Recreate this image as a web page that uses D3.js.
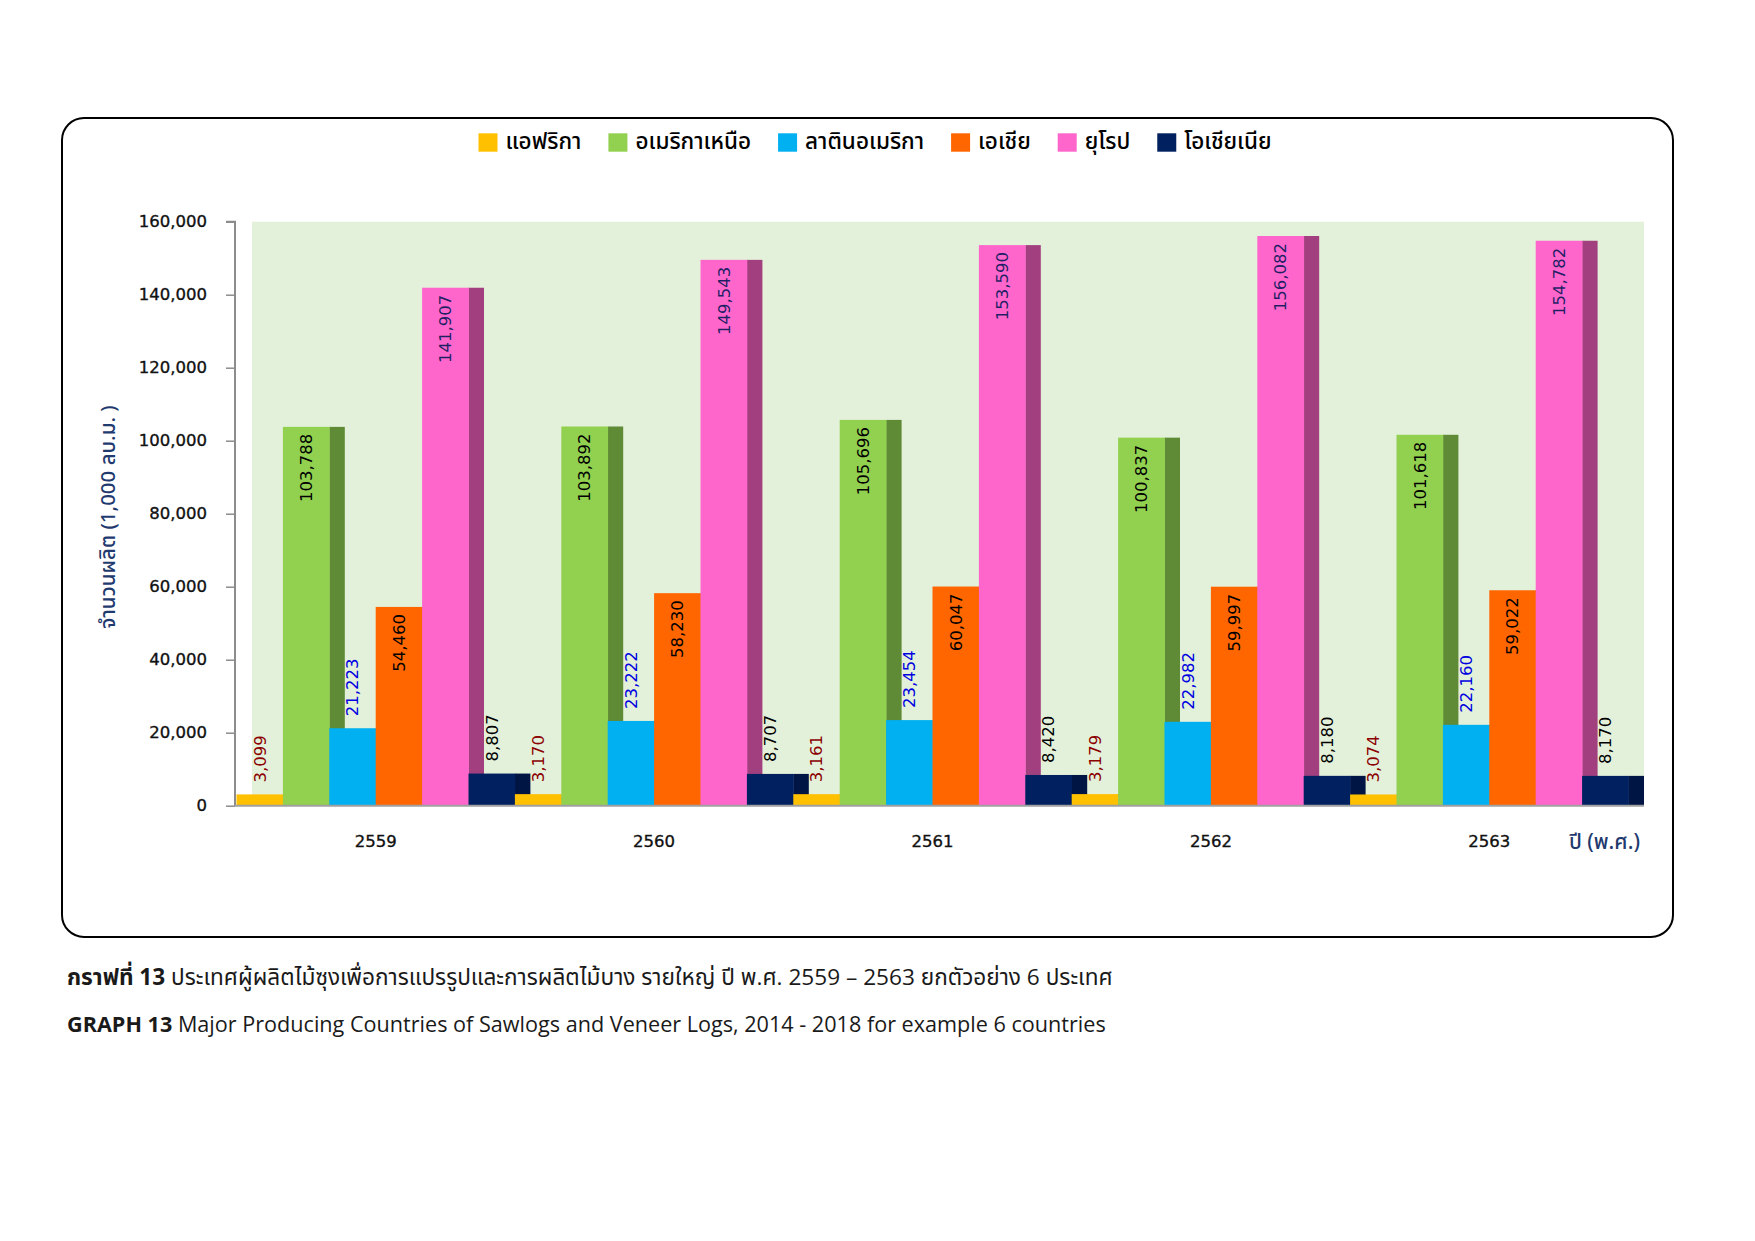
<!DOCTYPE html>
<html>
<head>
<meta charset="utf-8">
<script src="https://cdn.jsdelivr.net/npm/d3@7"></script>
<style>
  html, body { margin: 0; padding: 0; background: #fff; }
  svg { display: block; }
</style>
</head>
<body>
<svg id="chart" width="1755" height="1241"></svg>
<script>
// ---------------- DATA ----------------
const years = ['2559', '2560', '2561', '2562', '2563'];
const regions = ['แอฟริกา', 'อเมริกาเหนือ', 'ลาตินอเมริกา', 'เอเชีย', 'ยุโรป', 'โอเชียเนีย'];
const africa       = [3099, 3170, 3161, 3179, 3074];
const northAmerica = [103788, 103892, 105696, 100837, 101618];
const latinAmerica = [21223, 23222, 23454, 22982, 22160];
const asia         = [54460, 58230, 60047, 59997, 59022];
const europe       = [141907, 149543, 153590, 156082, 154782];
const oceania      = [8807, 8707, 8420, 8180, 8170];
const yTicks = [0, 20000, 40000, 60000, 80000, 100000, 120000, 140000, 160000];
const yTitle = 'จำนวนผลิต (1,000  ลบ.ม. )';
const xTitle = 'ปี (พ.ศ.)';
const caption1Bold = 'กราฟที่ 13';
const caption1Rest = ' ประเทศผู้ผลิตไม้ซุงเพื่อการแปรรูปและการผลิตไม้บาง รายใหญ่ ปี พ.ศ. 2559 – 2563 ยกตัวอย่าง 6 ประเทศ';
const caption2Bold = 'GRAPH 13';
const caption2Rest = ' Major Producing Countries of Sawlogs and Veneer Logs, 2014 - 2018 for example 6 countries';

const seriesValues = [africa, northAmerica, latinAmerica, asia, europe, oceania];

// ---------------- STYLE ----------------
const frontColors = ['#FFC000', '#92D050', '#00B0F0', '#FF6600', '#FF66CC', '#002060'];
const sideColors  = ['#BF9000', '#5F8A36', '#0083B4', '#BF4C00', '#A2407F', '#001543'];
const labelColors = ['#8B0000', '#000000', '#0000E0', '#000000', '#1F1F66', '#000000'];
const labelInside = [false, true, false, true, true, false];
const navy = '#1F3A6E';
const thaiFont = '"Noto Sans Thai", "Noto Sans Thai UI", "Leelawadee UI", Tahoma, "Noto Sans", sans-serif';
const numFont = '"DejaVu Sans", Verdana, sans-serif';

const svg = d3.select('#chart');

// frame
svg.append('rect')
  .attr('x', 62).attr('y', 118).attr('width', 1611).attr('height', 819)
  .attr('rx', 22).attr('ry', 22)
  .attr('fill', '#fff').attr('stroke', '#000').attr('stroke-width', 2);

const plot = { left: 236.5, right: 1628.5, top: 221.7, bottom: 805.7 };
const depth = 15.5;

const y = d3.scaleLinear().domain([0, 160000]).range([plot.bottom, plot.top]);
const x0 = d3.scaleBand().domain(years).range([plot.left, plot.right]).paddingInner(0).paddingOuter(0);
const x1 = d3.scaleBand().domain(d3.range(regions.length)).range([0, x0.bandwidth()]).padding(0);

// back wall
svg.append('rect')
  .attr('x', plot.left + depth).attr('y', plot.top)
  .attr('width', plot.right - plot.left)
  .attr('height', plot.bottom - plot.top)
  .attr('fill', '#E4F1DA');

// bars
const bars = [];
years.forEach((yr, gi) => {
  regions.forEach((r, si) => {
    bars.push({ year: yr, si, v: seriesValues[si][gi] });
  });
});

const barG = svg.append('g');
bars.forEach(d => {
  const bx = x0(d.year) + x1(d.si);
  const bw = x1.bandwidth();
  const top = y(d.v);
  barG.append('rect')
    .attr('x', bx + bw).attr('y', top)
    .attr('width', depth).attr('height', plot.bottom - top)
    .attr('fill', sideColors[d.si]);
  barG.append('rect')
    .attr('x', bx).attr('y', top)
    .attr('width', bw + 0.4).attr('height', plot.bottom - top)
    .attr('fill', frontColors[d.si]);
});

// axes
const yAxis = d3.axisLeft(y).tickValues(yTicks).tickSize(9).tickPadding(19)
  .tickFormat(d3.format(','));
const yg = svg.append('g').attr('transform', `translate(${plot.left - 1.5},0)`).call(yAxis);
yg.select('.domain').attr('stroke', '#8C8C8C').attr('stroke-width', 2)
  .attr('d', `M-9,${plot.top}H0V${plot.bottom}`);
yg.selectAll('.tick line').attr('stroke', '#8C8C8C').attr('stroke-width', 1.5);
yg.selectAll('.tick text').attr('font-family', numFont).attr('font-size', 16.5)
  .attr('fill', '#111').attr('stroke', '#111').attr('stroke-width', 0.35);

svg.append('line')
  .attr('x1', plot.left - 1.5).attr('x2', plot.right + depth)
  .attr('y1', plot.bottom).attr('y2', plot.bottom)
  .attr('stroke', '#A0A0A0').attr('stroke-width', 2);

const xAxis = d3.axisBottom(x0).tickSize(0).tickPadding(30);
const xg = svg.append('g').attr('transform', `translate(0,${plot.bottom})`).call(xAxis);
xg.select('.domain').remove();
xg.selectAll('.tick text').attr('font-family', numFont).attr('font-size', 16.5)
  .attr('fill', '#111').attr('stroke', '#111').attr('stroke-width', 0.35);

// data labels
const lblG = svg.append('g');
bars.forEach(d => {
  const cx = x0(d.year) + x1(d.si) + x1.bandwidth() / 2;
  const top = y(d.v);
  const inside = labelInside[d.si];
  const ly = inside ? top + 7 : top - 12;
  lblG.append('text')
    .attr('transform', `translate(${cx},${ly}) rotate(-90)`)
    .attr('text-anchor', inside ? 'end' : 'start')
    .attr('dy', '0.36em')
    .attr('font-family', numFont).attr('font-size', 16.5)
    .attr('fill', labelColors[d.si])
    .text(d3.format(',')(d.v));
});

// y title
svg.append('text')
  .attr('transform', `translate(108,517) rotate(-90)`)
  .attr('text-anchor', 'middle').attr('dy', '0.35em')
  .attr('font-family', thaiFont).attr('font-size', 20.5).attr('font-weight', 500)
  .attr('fill', navy)
  .text(yTitle);

// x title
svg.append('text')
  .attr('x', 1640).attr('y', 849)
  .attr('text-anchor', 'end')
  .attr('font-family', thaiFont).attr('font-size', 21).attr('font-weight', 500)
  .attr('fill', navy)
  .text(xTitle);

// legend
const legG = svg.append('g');
const legItems = [];
regions.forEach((r, i) => {
  const g = legG.append('g');
  g.append('rect').attr('x', 0).attr('y', 133.3).attr('width', 19).attr('height', 18.4)
    .attr('fill', frontColors[i]);
  const t = g.append('text').attr('x', 27).attr('y', 149)
    .attr('font-family', thaiFont).attr('font-size', 22.5).attr('font-weight', 500).attr('fill', '#000')
    .text(r);
  legItems.push({ g, w: 27 + t.node().getComputedTextLength() });
});
const legGap = 27;
const legTotal = d3.sum(legItems, d => d.w) + legGap * (legItems.length - 1);
let lx = 875 - legTotal / 2;
legItems.forEach(it => { it.g.attr('transform', `translate(${lx},0)`); lx += it.w + legGap; });

// captions
function caption(yPos, bold, rest, targetW) {
  const t = svg.append('text').attr('x', 67).attr('y', yPos)
    .attr('font-family', '"Open Sans", ' + thaiFont).attr('font-size', 24).attr('fill', '#1a1a1a');
  t.append('tspan').attr('font-weight', 'bold').text(bold);
  t.append('tspan').text(rest);
  const w = t.node().getComputedTextLength();
  if (w > 0) {
    const fs = Math.max(18, Math.min(28, 24 * targetW / w));
    t.attr('font-size', fs);
  }
}
caption(985, caption1Bold, caption1Rest, 1112.7 - 67);
caption(1031.7, caption2Bold, caption2Rest, 1106.7 - 67);
</script>
</body>
</html>
